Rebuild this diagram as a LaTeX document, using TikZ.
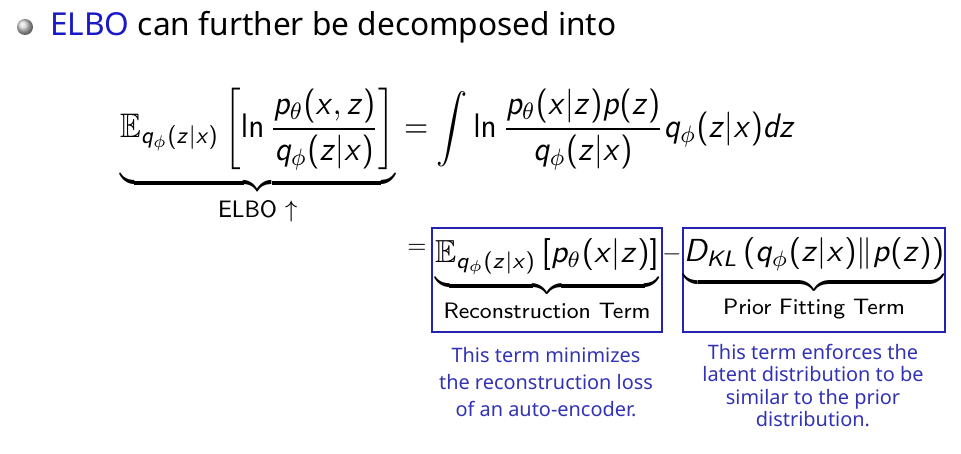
\documentclass[tikz,border=0pt]{standalone}
\usepackage[no-math]{fontspec}
\setmainfont{Noto Sans}
\usepackage{amsmath,amssymb}
\usepackage{graphicx}
% sans serif maths, slanted letters as on the slide
\DeclareSymbolFont{sfslanted}{OT1}{cmss}{m}{sl}
\SetSymbolFont{operators}{normal}{OT1}{cmss}{m}{n}
\newcount\lettercount
\lettercount=`a
\loop
  \Umathcode\lettercount="7 \symsfslanted \lettercount
  \advance\lettercount by 1
  \ifnum\lettercount<`\{ \repeat
\lettercount=`A
\loop
  \Umathcode\lettercount="7 \symsfslanted \lettercount
  \advance\lettercount by 1
  \ifnum\lettercount<`\[ \repeat
\definecolor{slideblue}{RGB}{25,25,200}
\definecolor{noteblue}{RGB}{50,50,180}
\definecolor{boxblue}{RGB}{35,35,175}
\begin{document}
\begin{tikzpicture}[x=0.03cm, y=-0.03cm,
    termbox/.style={draw=boxblue, line width=1.3pt, inner sep=0pt, minimum height=3.12cm},
    note/.style={text=noteblue, align=center, anchor=north},
    bigmath/.style={inner sep=0pt}]
    \useasboundingbox (0,0) rectangle (961,454);

    % Bullet and heading
    \shade[ball color=gray!35] (25,27) circle[radius=0.24cm];
    \node[anchor=base west, inner sep=0pt, font=\fontsize{27}{32}\selectfont] (title) at (50,36)
        {\textcolor{slideblue}{ELBO} can further be decomposed into};

    % First line of the derivation
    \node[bigmath, anchor=north west] (elbo) at (120,88) {\scalebox{2.66}[2.9]{$\displaystyle
        \underbrace{\mathbb{E}_{q_\phi(z|x)}\left[\ln\frac{p_\theta(x,z)}{q_\phi(z|x)}\right]}_{\textsf{ELBO }\uparrow}
        = \int \ln\frac{p_\theta(x|z)p(z)}{q_\phi(z|x)}q_\phi(z|x)dz$}};

    % Second line: the two terms
    \node[bigmath] (eqsign) at (417,249) {\scalebox{2.1}{$=$}};
    \node[termbox, minimum width=6.9cm] (recon) at (547,280) {\scalebox{2.72}{$\displaystyle
        \underbrace{\mathbb{E}_{q_\phi(z|x)}\left[p_\theta(x|z)\right]}_{\textsf{Reconstruction Term}}$}};
    \node[bigmath] (minus) at (672,254) {\scalebox{2.1}{$-$}};
    \node[termbox, minimum width=7.86cm] (prior) at (814,280) {\scalebox{2.72}{$\displaystyle
        \underbrace{D_{KL}\left(q_\phi(z|x)\|p(z)\right)}_{\textsf{Prior Fitting Term}}$}};

    % Notes under the boxes
    \node[note, font=\fontsize{17}{23}\selectfont] (reconnote) at (546,343)
        {This term minimizes\\the reconstruction loss\\of an auto-encoder.};
    \node[note, font=\fontsize{17}{19.2}\selectfont] (priornote) at (813,340)
        {This term enforces the\\latent distribution to be\\similar to the prior\\distribution.};
\end{tikzpicture}
\end{document}
